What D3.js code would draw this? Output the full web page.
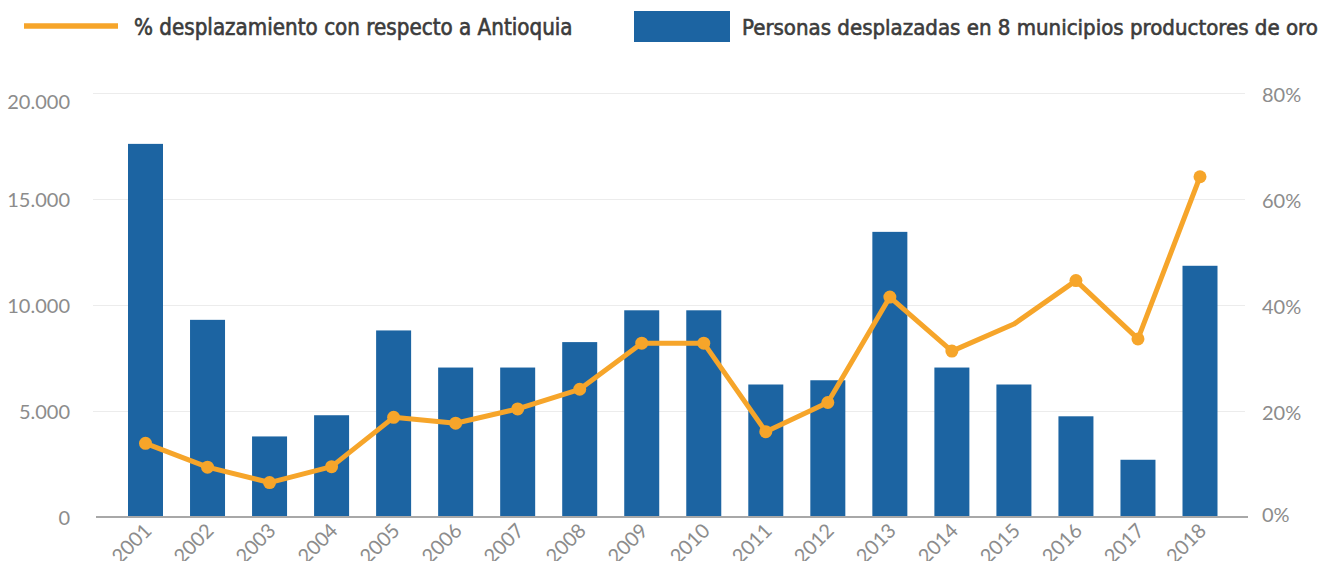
<!DOCTYPE html>
<html>
<head>
<meta charset="utf-8">
<script src="https://cdn.jsdelivr.net/npm/d3@7"></script>
<style>
  body { margin: 0; background: #fff; }
  svg { display: block; }
</style>
</head>
<body>
<svg></svg>
<script>
const years = ["2001","2002","2003","2004","2005","2006","2007","2008","2009","2010","2011","2012","2013","2014","2015","2016","2017","2018"];
const personas = [17600, 9300, 3800, 4800, 8800, 7050, 7050, 8250, 9750, 9750, 6250, 6450, 13450, 7050, 6250, 4750, 2700, 11850];
const porcentaje = [0.139, 0.094, 0.065, 0.095, 0.188, 0.177, 0.204, 0.241, 0.328, 0.328, 0.161, 0.216, 0.415, 0.313, 0.364, 0.446, 0.336, 0.642];
const leftTicks = [0, 5000, 10000, 15000, 20000];
const rightTicks = [0, 0.2, 0.4, 0.6, 0.8];
const noMarker = ["2015"];
const legendLine = "% desplazamiento con respecto a Antioquia";
const legendBar = "Personas desplazadas en 8 municipios productores de oro";

const width = 1321, height = 561;
const blue = "#1c64a2", orange = "#f6a52a";
const svg = d3.select("svg").attr("width", width).attr("height", height);

const x = d3.scalePoint().domain(years).range([145.5, 1200]);
const yL = d3.scaleLinear().domain([0, 20000]).range([517, 93]);
const yR = d3.scaleLinear().domain([0, 0.8]).range([517, 93]);
const barW = 35;

const es = d3.formatLocale({decimal: ",", thousands: ".", grouping: [3], currency: ["$", ""]});

// gridlines
const grid = svg.append("g").attr("transform", "translate(93,0)")
  .call(d3.axisRight(yL).tickValues(leftTicks.slice(1)).tickSize(1152).tickFormat(""));
grid.select(".domain").remove();
grid.selectAll("line").attr("stroke", "#ececec").attr("stroke-width", 1);

// left axis labels
const gl = svg.append("g").attr("transform", "translate(70,0)")
  .call(d3.axisLeft(yL).tickValues(leftTicks).tickSize(0).tickPadding(0).tickFormat(es.format(",.0f")));
gl.select(".domain").remove();
gl.selectAll("text").attr("font-family", "Lato, sans-serif").attr("font-size", 20).attr("fill", "#8c8c8c")
  .attr("dy", d => d === 20000 ? "0.75em" : "0.35em");

// right axis labels
const gr = svg.append("g").attr("transform", "translate(1262,0)")
  .call(d3.axisRight(yR).tickValues(rightTicks).tickSize(0).tickPadding(0).tickFormat(d3.format(".0%")));
gr.select(".domain").remove();
gr.selectAll("text").attr("font-family", "Lato, sans-serif").attr("font-size", 20).attr("fill", "#8c8c8c")
  .attr("dy", d => d === 0 ? "0.2em" : "0.4em");

// bars
svg.append("g").selectAll("rect").data(years).join("rect")
  .attr("x", d => x(d) - barW / 2)
  .attr("width", barW)
  .attr("y", (d, i) => yL(personas[i]))
  .attr("height", (d, i) => yL(0) - yL(personas[i]))
  .attr("fill", blue);

// x axis
const gx = svg.append("g").attr("transform", "translate(0,517)")
  .call(d3.axisBottom(x).tickSize(0).tickPadding(0));
gx.select(".domain").remove();
gx.append("line").attr("x1", 96).attr("x2", 1248).attr("stroke", "#a8a8a8").attr("stroke-width", 2);
gx.selectAll(".tick text")
  .attr("font-family", "Lato, sans-serif").attr("font-size", 20).attr("fill", "#8c8c8c")
  .attr("text-anchor", "end")
  .attr("transform", "translate(2,10) rotate(-45)")
  .attr("dy", "0.35em").attr("y", 0);

// line
const pts = years.map((d, i) => [x(d), yR(porcentaje[i])]);
svg.append("path").attr("d", d3.line()(pts))
  .attr("fill", "none").attr("stroke", orange).attr("stroke-width", 5).attr("stroke-linejoin", "round");
svg.append("g").selectAll("circle").data(years.map((d, i) => ({year: d, v: porcentaje[i]})).filter(d => !noMarker.includes(d.year)))
  .join("circle")
  .attr("cx", d => x(d.year)).attr("cy", d => yR(d.v)).attr("r", 6.5).attr("fill", orange);

// legend
const lg = svg.append("g");
lg.append("line").attr("x1", 24).attr("x2", 118).attr("y1", 26).attr("y2", 26).attr("stroke", orange).attr("stroke-width", 5.5);
lg.append("rect").attr("x", 634).attr("y", 11).attr("width", 96).attr("height", 31).attr("fill", blue);
const fitText = (sel, target) => {
  const w = sel.node().getComputedTextLength();
  sel.attr("font-size", 22 * target / w);
};
const t1 = lg.append("text").attr("x", 134).attr("y", 35).text(legendLine)
  .attr("font-family", "'DejaVu Sans Condensed', sans-serif").attr("font-size", 22)
  .attr("fill", "#3c3c3c").attr("stroke", "#3c3c3c").attr("stroke-width", 0.6);
const t2 = lg.append("text").attr("x", 742).attr("y", 35).text(legendBar)
  .attr("font-family", "'DejaVu Sans Condensed', sans-serif").attr("font-size", 22)
  .attr("fill", "#3c3c3c").attr("stroke", "#3c3c3c").attr("stroke-width", 0.6);
fitText(t1, 439);
fitText(t2, 576);
</script>
</body>
</html>
